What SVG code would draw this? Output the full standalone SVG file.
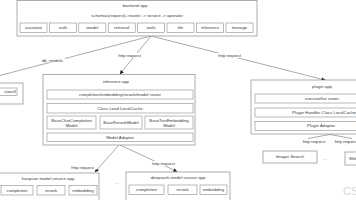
<svg xmlns="http://www.w3.org/2000/svg" width="356" height="200" viewBox="0 0 356 200">
<style>
.box{fill:#fff;stroke:#8a8a8a;stroke-width:0.7}
.in{fill:#fff;stroke:#8a8a8a;stroke-width:0.6}
.t{font-family:"Liberation Sans",Arial,sans-serif;font-size:4.3px;fill:#3a3a3a;text-anchor:middle}
.lbl{font-family:"Liberation Sans",Arial,sans-serif;font-size:4.3px;fill:#3a3a3a;text-anchor:middle}
.c{stroke:#555;stroke-width:0.5;fill:none}
.bg{fill:#fff}
.wm{font-family:"Liberation Sans",Arial,sans-serif;font-size:11px;fill:#d8d8d8}
</style>
<defs>
<marker id="ah" viewBox="0 0 6 6" refX="5.5" refY="3" markerWidth="4" markerHeight="4" orient="auto" markerUnits="userSpaceOnUse">
<path d="M0,0 L6,3 L0,6 z" fill="#222"/>
</marker>
</defs>
<rect width="356" height="200" fill="#fff"/>

<g id="connectors">
<path class="c" d="M151,36 L-2,76"/>
<path class="c" d="M151,36 L120,74" marker-end="url(#ah)"/>
<path class="c" d="M151,36 L325,80" marker-end="url(#ah)"/>
<path class="c" d="M119,145 L95,172" marker-end="url(#ah)"/>
<path class="c" d="M120,145 L177,171.5" marker-end="url(#ah)"/>
<path class="c" d="M330,134.5 L308,138.5"/>
<path class="c" d="M330,134.5 L352,138.5"/>
<rect class="bg" x="40" y="57.5" width="25" height="5"/>
<text class="lbl" x="52.5" y="61.5">db_models</text>
<rect class="bg" x="116" y="53" width="27" height="5"/>
<text class="lbl" x="129.5" y="57">http request</text>
<rect class="bg" x="216" y="53" width="27" height="5"/>
<text class="lbl" x="229.5" y="57">http request</text>
<rect class="bg" x="68" y="164.5" width="29" height="5"/>
<text class="lbl" x="82.5" y="168.5">http request</text>
<rect class="bg" x="149" y="161" width="29" height="5"/>
<text class="lbl" x="163.5" y="165">http request</text>
<text class="lbl" x="314" y="143">http request</text>
<text class="lbl" x="346" y="143">http request</text>
</g>

<g id="backend">
<rect class="box" x="17" y="0.5" width="240" height="35.5"/>
<text class="t" x="135" y="6.5">backend app</text>
<text class="t" x="137" y="16.5">schemas(request)-&gt;router -&gt; service -&gt; operator</text>
<rect class="in" x="20" y="23" width="27" height="9.5"/>
<text class="t" x="33.5" y="29.2">assistant</text>
<rect class="in" x="49.5" y="23" width="27" height="9.5"/>
<text class="t" x="63" y="29.2">auth</text>
<rect class="in" x="78.8" y="23" width="27" height="9.5"/>
<text class="t" x="92.3" y="29.2">model</text>
<rect class="in" x="108.2" y="23" width="27" height="9.5"/>
<text class="t" x="121.7" y="29.2">retrieval</text>
<rect class="in" x="137.6" y="23" width="27" height="9.5"/>
<text class="t" x="151.1" y="29.2">tools</text>
<rect class="in" x="167" y="23" width="27" height="9.5"/>
<text class="t" x="180.5" y="29.2">file</text>
<rect class="in" x="196.5" y="23" width="27" height="9.5"/>
<text class="t" x="210" y="29.2">inference</text>
<rect class="in" x="226" y="23" width="27" height="9.5"/>
<text class="t" x="239.5" y="29.2">manage</text>
</g>

<g id="db">
<rect class="box" x="-10" y="83" width="33" height="21"/>
<rect class="in" x="-10" y="88" width="27" height="7.5"/>
<text class="t" x="16" y="93" style="text-anchor:end">store3</text>
</g>

<g id="inference">
<rect class="box" x="43" y="74.5" width="152" height="70.5"/>
<text class="t" x="116" y="83">inference app</text>
<rect class="in" x="47" y="90" width="146" height="9"/>
<text class="t" x="120" y="96">completion/embedding/rerank/model router</text>
<rect class="in" x="47" y="103.5" width="146" height="9.5"/>
<text class="t" x="120" y="109.7">Class Load LocalCache</text>
<rect class="in" x="47" y="116" width="49" height="13"/>
<text class="t" x="71.5" y="121.5">BaseChatCompletion</text>
<text class="t" x="71.5" y="126.5">Model</text>
<rect class="in" x="100" y="116" width="42" height="13"/>
<text class="t" x="121" y="124">BaseRerankModel</text>
<rect class="in" x="145" y="116" width="48" height="13"/>
<text class="t" x="169" y="121.5">BaseTextEmbedding</text>
<text class="t" x="169" y="126.5">Model</text>
<rect class="in" x="47" y="133" width="146" height="8.5"/>
<text class="t" x="120" y="138.7">Model Adaptor</text>
</g>

<g id="hunyuan">
<rect class="box" x="-1" y="173" width="100" height="30"/>
<text class="t" x="48" y="179.5">hunyuan model service app</text>
<rect class="in" x="1" y="185.5" width="32" height="9.5"/>
<text class="t" x="17" y="191.7">completion</text>
<rect class="in" x="37" y="185.5" width="28" height="9.5"/>
<text class="t" x="51" y="191.7">rerank</text>
<rect class="in" x="69" y="185.5" width="28" height="9.5"/>
<text class="t" x="83" y="191.7">embedding</text>
</g>

<text class="t" x="117" y="184" id="dots1">...</text>

<g id="deepseek">
<rect class="box" x="126" y="172" width="104" height="30"/>
<text class="t" x="178" y="178.5">deepseek model service app</text>
<rect class="in" x="129" y="185" width="35" height="9.5"/>
<text class="t" x="146.5" y="191.2">completion</text>
<rect class="in" x="168" y="185" width="29" height="9.5"/>
<text class="t" x="182.5" y="191.2">rerank</text>
<rect class="in" x="200" y="185" width="27" height="9.5"/>
<text class="t" x="213.5" y="191.2">embedding</text>
</g>

<g id="plugin">
<rect class="box" x="251" y="80" width="142" height="54"/>
<text class="t" x="322" y="88">plugin app</text>
<rect class="in" x="255" y="94" width="134" height="9"/>
<text class="t" x="322" y="99.8">execute/list router</text>
<rect class="in" x="255" y="108" width="134" height="9"/>
<text class="t" x="324" y="113.8">Plugin Handler Class LocalCache</text>
<rect class="in" x="255" y="121.5" width="134" height="9"/>
<text class="t" x="321" y="127.3">Plugin Adaptor</text>
</g>

<g id="imager">
<rect class="box" x="263" y="151" width="54" height="12"/>
<text class="t" x="290" y="158.3">Imager Search</text>
</g>

<text class="t" x="325" y="159.5" id="dots2">...</text>

<g id="websearch">
<rect class="box" x="345" y="152" width="40" height="13"/>
<text class="t" x="349" y="159.8" style="text-anchor:start">Web Search</text>
</g>

<text class="wm" x="343" y="195">CSDN</text>
</svg>
